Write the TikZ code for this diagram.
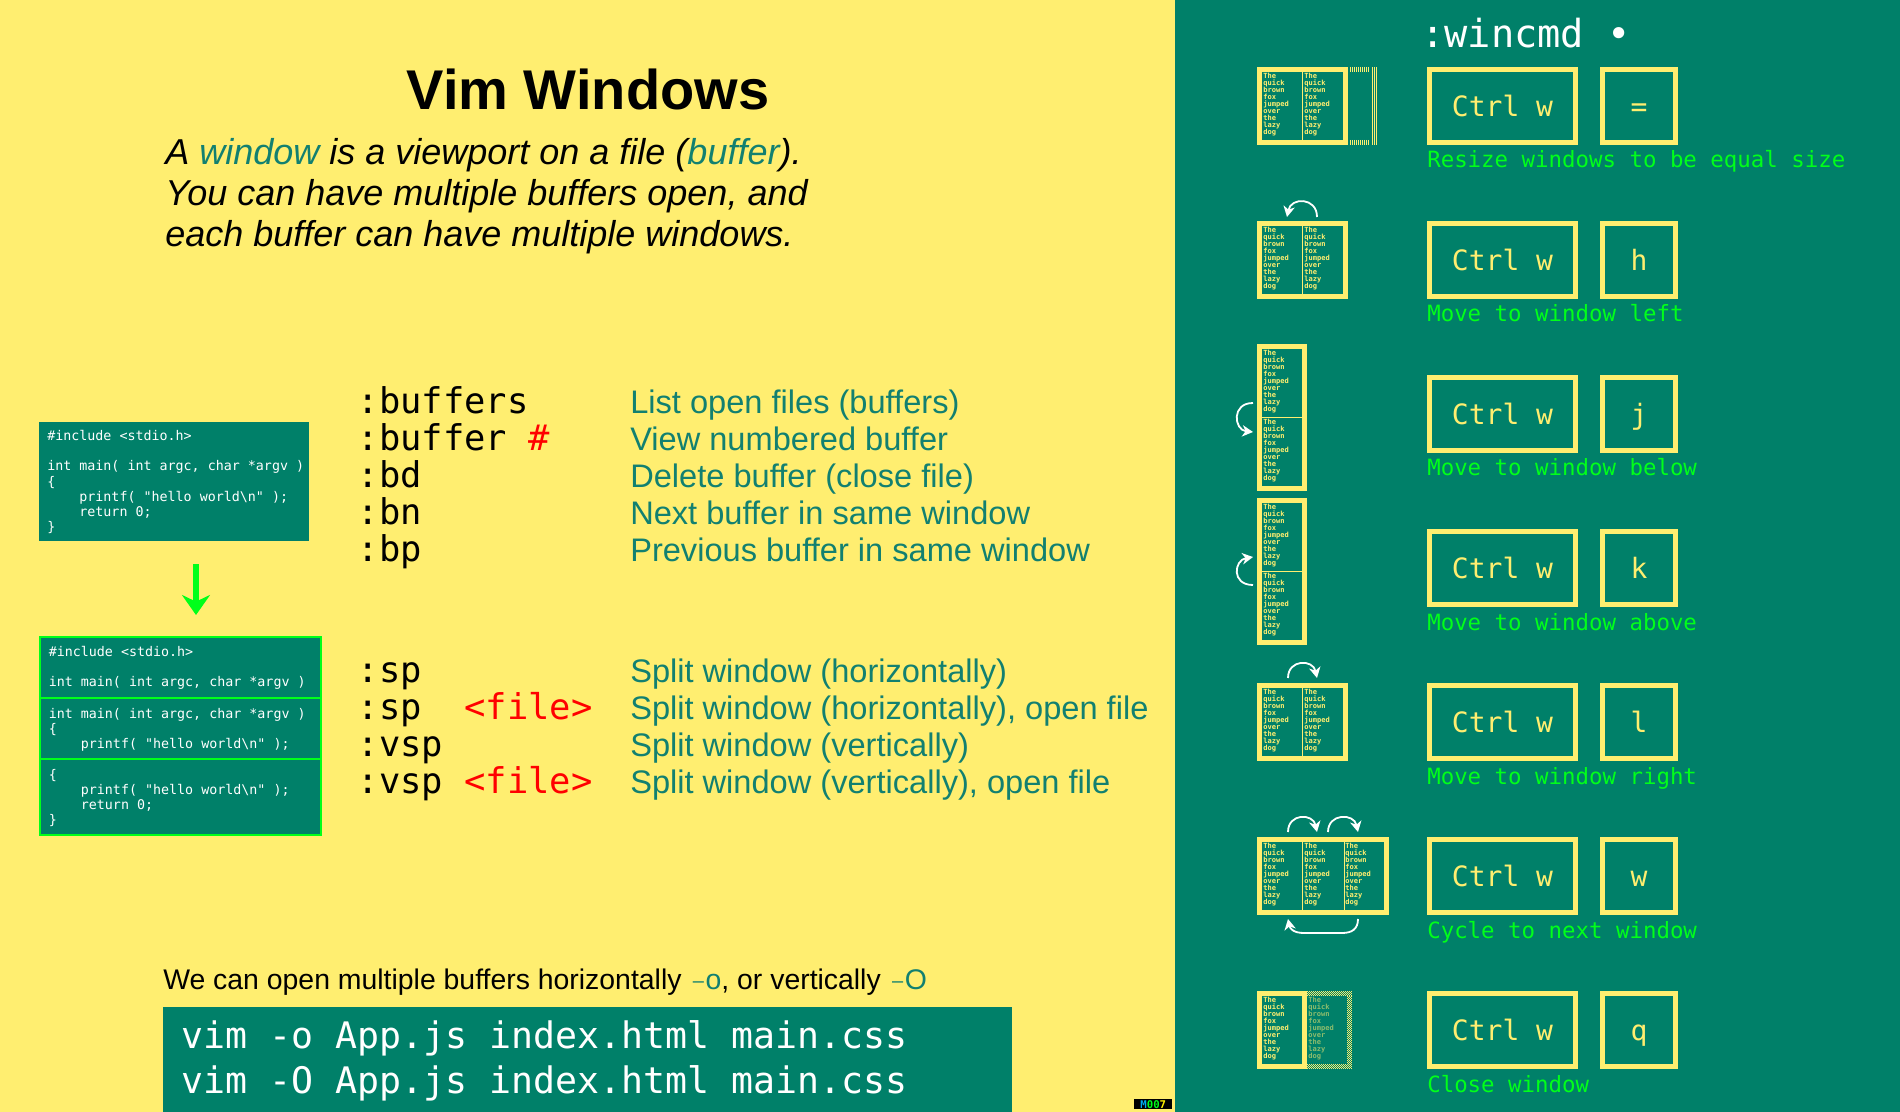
\documentclass[tikz,border=0pt]{standalone}
\usepackage{fontspec}
\setmainfont{Liberation Sans}
\setmonofont{DejaVu Sans Mono}
\usetikzlibrary{arrows.meta,positioning}
\definecolor{panel}{HTML}{008069}
\definecolor{sand}{HTML}{FFEE70}
\definecolor{lime}{HTML}{00FF1A}
\definecolor{descr}{HTML}{128070}
\newcommand{\foxtext}{The\\quick\\brown\\fox\\jumped\\over\\the\\lazy\\dog}
\newcommand{\optflag}[1]{\textcolor{descr}{\kern2.5pt\raisebox{1.7pt}{\fontsize{15}{15}\selectfont\textendash}\kern1.25pt#1}}
\tikzset{%
  keybox/.style={draw=sand,line width=3.75pt,text=sand,font=\fontsize{21}{21}\ttfamily,inner sep=0,text height=15.4pt,text depth=0pt},
  keynote/.style={anchor=base west,inner sep=0,text=lime,font=\fontsize{16.8}{17}\ttfamily},
  frame/.style={draw=sand,line width=3.75pt,inner sep=0,anchor=north west},
  fox/.style={anchor=north west,inner sep=0,align=left,text=sand,font=\fontsize{5.3}{5.2}\ttfamily\bfseries},
}

\begin{document}
\begin{tikzpicture}[
            x=0.75pt,y=-0.75pt,
            cmd/.style={anchor=base west,inner sep=0,font=\fontsize{26.6}{26}\ttfamily},
            descr/.style={anchor=base west,inner sep=0,text=descr,font=\fontsize{24.45}{24}\selectfont},
            lead/.style={anchor=base west,inner sep=0,font=\fontsize{27}{27}\itshape},
            code/.style={anchor=north west,inner sep=0,align=left,text=white,font=\fontsize{10}{11.4}\ttfamily},
            codebox/.style={fill=panel,inner sep=0,anchor=north west},
            turn/.style={draw=white,line width=1.35pt,-{Stealth[length=8pt,width=8.5pt,inset=2.4pt]}},
            >=latex
            ]
            \useasboundingbox (0,0) rectangle (1900,1112);
            \fill[sand] (0,0) rectangle (1175,1112);
            \fill[panel] (1175,0) rectangle (1900,1112);

            \node[anchor=base,inner sep=0,font=\fontsize{42}{42}\bfseries] (title) at (588,110) {Vim Windows};
            \node[lead] (leada) at (165,164.5) {A \textcolor{descr}{window} is a viewport on a file (\textcolor{descr}{buffer}).};
            \node[lead] (leadb) at (165,205.5) {You can have multiple buffers open, and};
            \node[lead] (leadc) at (165,246.5) {each buffer can have multiple windows.};

            % buffer commands
            \foreach \ci/\cy/\cc/\cd in {a/413.5/{:buffers}/{List open files (buffers)},
                                         b/450.5/{:buffer \textcolor{red}{\#}}/{View numbered buffer},
                                         c/487.5/{:bd}/{Delete buffer (close file)},
                                         d/524.5/{:bn}/{Next buffer in same window},
                                         e/561.5/{:bp}/{Previous buffer in same window},
                                         f/682/{:sp}/{Split window (horizontally)},
                                         g/719/{:sp\ \ \textcolor{red}{<file>}}/{Split window (horizontally), open file},
                                         h/756/{:vsp}/{Split window (vertically)},
                                         i/793/{:vsp \textcolor{red}{<file>}}/{Split window (vertically), open file}}
            {
                \node[cmd] (cmd-\ci) at (357.5,\cy) {\cc};
                \node[descr] (descr-\ci) at (630,\cy) {\cd};
            }

            % code before the split
            \node[codebox,minimum width=202.5pt,minimum height=89.25pt] (one) at (39,422) {};
            \node[code] (onecode) at (47,430) {\#include <stdio.h>\\[11.4pt]int main( int argc, char *argv )\\\{\\\ \ \ \ printf( "hello world\textbackslash n" );\\\ \ \ \ return 0;\\\}};
            \coordinate (downa) at (196,564);
            \coordinate (downb) at (196,615);
            \draw[draw=lime,line width=5.2pt,-{Stealth[length=15pt,width=21pt,inset=5pt]}] (downa) -- (downb);

            % code after the split
            \node[codebox,draw=lime,line width=1.5pt,minimum width=210.75pt,minimum height=148.5pt] (two) at (39,636) {};
            \coordinate (cuta) at (40,698);
            \coordinate (cutb) at (321,698);
            \coordinate (cutc) at (40,759);
            \coordinate (cutd) at (321,759);
            \draw[draw=lime,line width=1.5pt] (cuta) -- (cutb);
            \draw[draw=lime,line width=1.5pt] (cutc) -- (cutd);
            \node[code] (twoa) at (48.5,646) {\#include <stdio.h>\\[11.4pt]int main( int argc, char *argv )};
            \node[code] (twob) at (48.5,708) {int main( int argc, char *argv )\\\{\\\ \ \ \ printf( "hello world\textbackslash n" );};
            \node[code] (twoc) at (48.5,769) {\{\\\ \ \ \ printf( "hello world\textbackslash n" );\\\ \ \ \ return 0;\\\}};

            % open many buffers
            \node[anchor=base west,inner sep=0,font=\fontsize{21.3}{21}\selectfont] (many) at (163,989.5) {We can open multiple buffers horizontally \optflag{o}, or vertically \optflag{O}};
            \node[fill=panel,inner sep=0,anchor=north west,minimum width=636.75pt,minimum height=78.75pt] (shell) at (163,1007) {};
            \node[anchor=base west,inner sep=0,text=white,font=\fontsize{27.4}{27}\ttfamily] (shella) at (181,1048.5) {vim -o App.js index.html main.css};
            \node[anchor=base west,inner sep=0,text=white,font=\fontsize{27.4}{27}\ttfamily] (shellb) at (181,1093.5) {vim -O App.js index.html main.css};

            \node[fill=black,inner sep=0,anchor=north west,minimum width=28.5pt,minimum height=7.5pt,font=\fontsize{8}{8}\ttfamily\bfseries,text=white] (badge) at (1134,1099) {\textcolor{cyan}{M}\textcolor{lime}{00}\textcolor{yellow}{7}};

            % right panel
            \node[anchor=base west,inner sep=0,text=white,font=\fontsize{29}{29}\ttfamily] (wincmd) at (1421,47.5) {:wincmd •};
            \foreach \ri/\ry/\rk/\rt in {a/67/{=}/{Resize windows to be equal size},
                                         b/221/h/{Move to window left},
                                         c/375/j/{Move to window below},
                                         d/529/k/{Move to window above},
                                         e/683/l/{Move to window right},
                                         f/837/w/{Cycle to next window},
                                         g/991/q/{Close window}}
            {
                \node[keybox,minimum width=109.5pt,minimum height=54.75pt] (ctrl-\ri) at (1502.5,\ry+39) {Ctrl w};
                \node[keybox,minimum width=54.75pt,minimum height=54.75pt] (key-\ri) at (1639,\ry+39) {\rk};
                \node[keynote] (note-\ri) at (1427,\ry+101) {\rt};
            }

            % two panes side by side
            \foreach \wi/\wy in {a/67,b/221,e/683}
            {
                \node[frame,minimum width=64.5pt,minimum height=54.75pt] (win-\wi) at (1257,\wy) {};
                \draw[draw=sand,line width=0.75pt] (win-\wi.north) -- (win-\wi.south);
                \node[fox] (foxa-\wi) at (1263,\wy+6) {\foxtext};
                \node[fox] (foxb-\wi) at (1304,\wy+6) {\foxtext};
            }
            % the ghost of the wider window
            \foreach \gx in {1350,1352,...,1368}
            {
                \draw[draw=sand,line width=0.75pt] (\gx,67) -- (\gx,72);
                \draw[draw=sand,line width=0.75pt] (\gx,140) -- (\gx,145);
            }
            \foreach \gx in {1372,1374,1376}
                \draw[draw=sand,line width=0.75pt] (\gx,67) -- (\gx,145);

            % panes on top of each other
            \foreach \wi/\wy in {c/344,d/498}
            {
                \node[frame,minimum width=33.75pt,minimum height=106.5pt] (win-\wi) at (1257,\wy) {};
                \draw[draw=sand,line width=0.75pt] (win-\wi.west) -- (win-\wi.east);
                \node[fox] (foxa-\wi) at (1263,\wy+6) {\foxtext};
                \node[fox] (foxb-\wi) at (1263,\wy+75) {\foxtext};
            }

            % three panes
            \node[frame,minimum width=95.25pt,minimum height=54.75pt] (win-f) at (1257,837) {};
            \coordinate (paneab) at (1302,837);
            \coordinate (panea) at (1302,915);
            \coordinate (panebb) at (1344,837);
            \coordinate (paneb) at (1344,915);
            \draw[draw=sand,line width=0.75pt] (paneab) -- (panea);
            \draw[draw=sand,line width=0.75pt] (panebb) -- (paneb);
            \foreach \pn/\px in {a/1263,b/1304,c/1345}
                \node[fox] (foxf-\pn) at (\px,843) {\foxtext};

            % the closing window
            \node[frame,minimum width=33.75pt,minimum height=54.75pt] (win-g) at (1257,991) {};
            \node[fox] (foxa-g) at (1263,997) {\foxtext};
            \node[fox,opacity=0.55] (foxb-g) at (1308,997) {\foxtext};
            \foreach \dy in {0,1,...,4}
            {
                \draw[draw=sand,line width=0.75pt,dash pattern=on 0.75pt off 0.75pt,dash phase=\dy*0.75pt] (1307,991.5+\dy) -- (1352,991.5+\dy);
                \draw[draw=sand,line width=0.75pt,dash pattern=on 0.75pt off 0.75pt,dash phase=\dy*0.75pt] (1307,1064.5+\dy) -- (1352,1064.5+\dy);
                \draw[draw=sand,line width=0.75pt,dash pattern=on 0.75pt off 0.75pt,dash phase=\dy*0.75pt] (1347.5+\dy,996) -- (1347.5+\dy,1064);
            }

            % turning arrows
            \coordinate (lefta) at (1317,217);
            \coordinate (leftb) at (1287,217);
            \draw[turn] (lefta) .. controls (1317,197) and (1291,197) .. (leftb);
            \coordinate (belowa) at (1253,403);
            \coordinate (belowb) at (1253,432);
            \draw[turn] (belowa) .. controls (1231,403) and (1234,430) .. (belowb);
            \coordinate (abovea) at (1253,585);
            \coordinate (aboveb) at (1253,557);
            \draw[turn] (abovea) .. controls (1231,585) and (1234,560) .. (aboveb);
            \coordinate (righta) at (1288,678);
            \coordinate (rightb) at (1317,678);
            \draw[turn] (righta) .. controls (1288,659) and (1313,659) .. (rightb);
            \coordinate (nexta) at (1288,832);
            \coordinate (nextb) at (1317,832);
            \draw[turn] (nexta) .. controls (1288,813) and (1313,813) .. (nextb);
            \coordinate (nextc) at (1328,832);
            \coordinate (nextd) at (1358,832);
            \draw[turn] (nextc) .. controls (1328,813) and (1354,813) .. (nextd);
            \coordinate (backa) at (1358,919);
            \coordinate (backb) at (1288,919);
            \draw[turn] (backa) .. controls (1358,929) and (1352,933) .. (1342,933) -- (1304,933) .. controls (1294,933) and (1290,929) .. (backb);
        \end{tikzpicture}
\end{document}
